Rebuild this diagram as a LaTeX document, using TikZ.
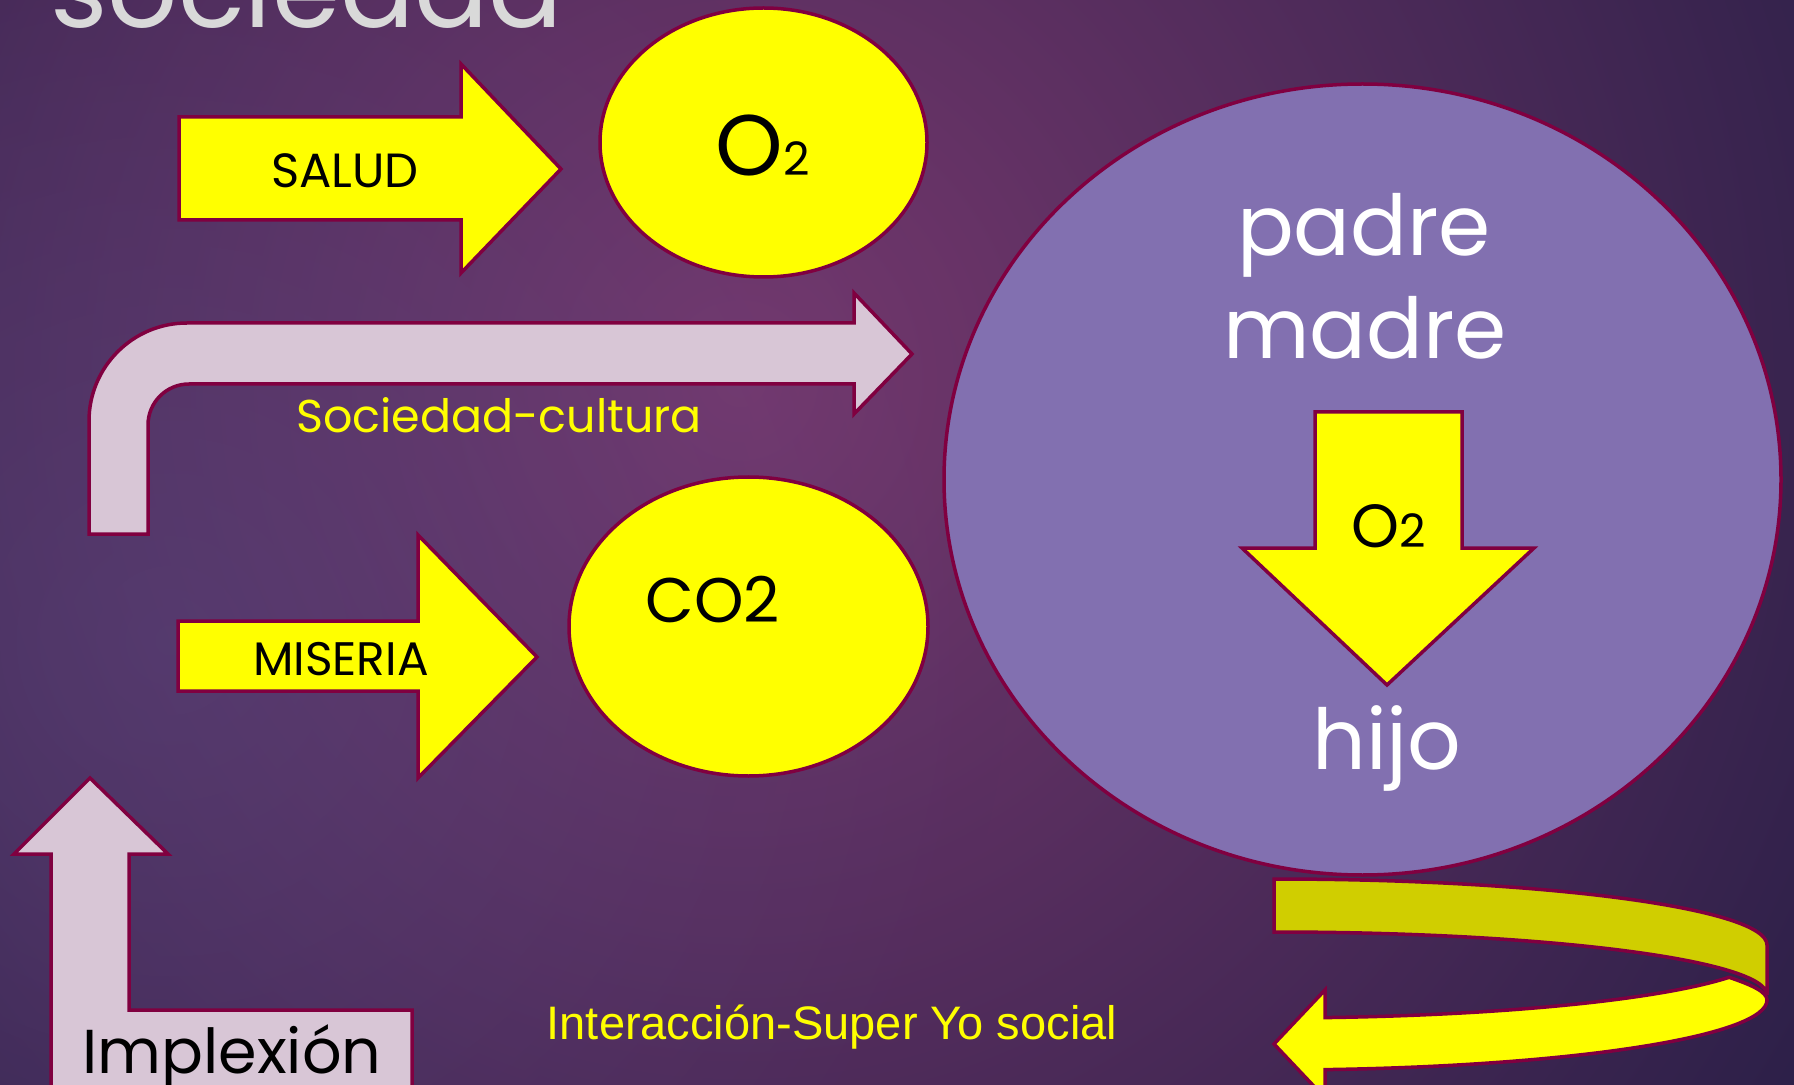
\documentclass[tikz,border=0pt]{standalone}
\usepackage{fontspec}
\setmainfont{Poppins}
\newfontfamily\arialfont{Liberation Sans}
\usepackage{tikz}
\usepackage{xcolor}
\usetikzlibrary{shapes.geometric, calc, positioning, fadings}

\definecolor{bgdark}{RGB}{36,29,68}
\definecolor{bglight}{RGB}{118,56,110}
\definecolor{bgblue}{RGB}{88,70,125}
\definecolor{rim}{RGB}{128,0,64}
\definecolor{lemon}{RGB}{255,255,0}
\definecolor{olive}{RGB}{208,206,0}
\definecolor{lilac}{RGB}{216,198,214}
\definecolor{famviolet}{RGB}{130,112,176}
\definecolor{titlegrey}{RGB}{217,217,217}

\tikzfading[name=glowfade, inner color=transparent!0, outer color=transparent!100]

\tikzset{
  % Block arrow style
  blk/.style={
    draw=rim, line width = 1.75pt, line join=miter
  },
  % Ellipse style
  blob/.style={
    ellipse, draw=rim, line width = 1.75pt, inner sep=0pt
  },
}

\begin{document}
\begin{tikzpicture}
          [x=0.5pt, y=-0.5pt
          , txt/.style={inner sep=0pt, anchor=base}
          ]
          \useasboundingbox (0,0) rectangle (1794,1085);
          \clip (0,0) rectangle (1794,1085);
          \fill[bgdark] (0,0) rectangle (1794,1085);
          \shade[inner color=bglight, outer color=bgdark] (740,380) ellipse [x radius=1400, y radius=1450];
          \fill[bgblue, path fading=glowfade, fill opacity=0.55] (170,640) ellipse [x radius=840, y radius=840];

          \node (title) [txt
                        , anchor=base west
                        , text=titlegrey
                        , font=\fontsize{55}{55}\selectfont
                        ] at (50,28) {sociedad};

          % ellipses
          \node (o2top) [blob, fill=lemon
                        , minimum width=163.5pt
                        , minimum height=134.5pt
                        ] at (763.5,142.5) {};
          \node (co2blob) [blob, fill=lemon
                        , minimum width=179.5pt
                        , minimum height=149.5pt
                        ] at (748.5,626.5) {};
          \node (family) [blob, fill=famviolet
                        , minimum width=418.5pt
                        , minimum height=395.5pt
                        ] at (1362.5,479.5) {};

          % block arrows
          \draw[blk, fill=lemon] (179,117) -- (461,117) -- (461,64) -- (561,169)
                -- (461,273) -- (461,220) -- (179,220) -- cycle;
          \draw[blk, fill=lemon] (178,621) -- (418,621) -- (418,535) -- (537,657)
                -- (418,778) -- (418,691) -- (178,691) -- cycle;
          \draw[blk, fill=lilac] (89,534) -- (89,421) arc[start angle=180, end angle=270, radius=98]
                -- (854,323) -- (854,293) -- (912,354) -- (854,414) -- (854,384)
                -- (189,384) arc[start angle=270, end angle=180, radius=41] -- (148,534) -- cycle;
          \draw[blk, fill=lilac] (51,1100) -- (51,854) -- (14,854) -- (90,778) -- (168,854)
                -- (129,854) -- (129,1010) -- (412,1010) -- (412,1100) -- cycle;
          \draw[blk, fill=lemon] (1315,412) -- (1462,412) -- (1462,548) -- (1534,548)
                -- (1387,685) -- (1242,548) -- (1315,548) -- cycle;

          % ribbon
          \draw[blk, fill=olive] (1274,879) arc[start angle=-90, end angle=0, x radius=493, y radius=66]
                -- (1767,995) arc[start angle=0, end angle=-90, x radius=493, y radius=63] -- cycle;
          \draw[blk, fill=lemon] (1274,1044) -- (1325,990) -- (1325,1017.6)
                arc[start angle=84.06, end angle=22.6, x radius=493, y radius=66]
                .. controls (1752,985) and (1767,992) .. (1767,1000)
                arc[start angle=0, end angle=84.06, x radius=493, y radius=70]
                -- (1325,1098) -- cycle;

          % labels
          \node (salud) [txt, font=\fontsize{24}{24}\selectfont] at (345,188) {SALUD};
          \node (o2a) [txt] at (763,176)
                {\fontsize{43}{43}\selectfont O\fontsize{23}{23}\selectfont 2};
          \node (soccult) [txt
                          , text=lemon
                          , font=\fontsize{23}{23}\selectfont
                          ] at (499,433) {Sociedad-cultura};
          \node (miseria) [txt, font=\fontsize{23.5}{23.5}\selectfont] at (341,675) {MISERIA};
          \node (co2) [txt, font=\fontsize{31.5}{31.5}\selectfont] at (713,622) {CO2};
          \node (padre) [txt
                        , text=white
                        , font=\fontsize{42}{42}\selectfont
                        ] at (1364,256) {padre};
          \node (madre) [txt
                        , text=white
                        , font=\fontsize{42}{42}\selectfont
                        ] at ($(padre.base)+(1,103)$) {madre};
          \node (o2b) [txt] at (1389,547)
                {\fontsize{30.5}{30.5}\selectfont O\fontsize{23}{23}\selectfont 2};
          \node (hijo) [txt
                       , text=white
                       , font=\fontsize{42}{42}\selectfont
                       ] at (1387,769) {hijo};
          \node (superyo) [txt
                          , text=lemon
                          , font=\arialfont\fontsize{23.5}{23.5}\selectfont
                          ] at (832,1039) {Interacción-Super Yo social};
          \node (implexion) [txt, font=\fontsize{31}{31}\selectfont] at (232,1073) {Implexión};
\end{tikzpicture}
\end{document}
